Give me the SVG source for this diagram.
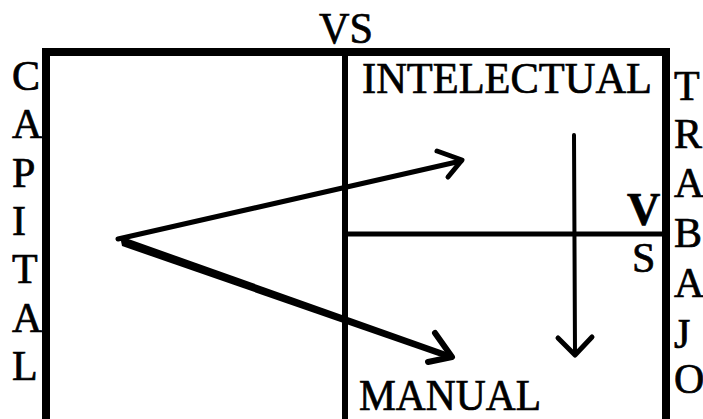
<svg xmlns="http://www.w3.org/2000/svg" width="703" height="419" viewBox="0 0 703 419">
<style>
.t{font-family:"Liberation Serif","Times New Roman",serif;fill:#000;stroke:#000;stroke-width:0.7;}
.box{fill:none;stroke:#000;}
.ln{fill:none;stroke:#000;stroke-linecap:round;stroke-linejoin:round;}
</style>
<rect width="703" height="419" fill="#fff"/>
<g id="frame">
  <path class="box" d="M46,419 V52 H666 V419" stroke-width="8" stroke-linejoin="miter"/>
  <line class="box" x1="345" y1="52" x2="345" y2="419" stroke-width="6"/>
  <line class="box" x1="345" y1="234" x2="662" y2="234" stroke-width="5"/>
</g>
<g id="vs-top"><text class="t" x="319" y="43" font-size="44" textLength="54" lengthAdjust="spacingAndGlyphs">VS</text></g>
<g id="intelectual"><text class="t" x="362" y="93" font-size="44" textLength="290" lengthAdjust="spacingAndGlyphs">INTELECTUAL</text></g>
<g id="manual"><text class="t" x="359" y="410" font-size="44" textLength="182" lengthAdjust="spacingAndGlyphs">MANUAL</text></g>
<g id="vs-right">
  <text class="t" x="627" y="225" font-size="46" font-weight="bold">V</text>
  <text class="t" x="632" y="272" font-size="42">S</text>
</g>
<g id="capital" class="t" font-size="42">
  <text x="12" y="90">C</text>
  <text x="12" y="138">A</text>
  <text x="12" y="187">P</text>
  <text x="12" y="235">I</text>
  <text x="12" y="283">T</text>
  <text x="12" y="332">A</text>
  <text x="12" y="380">L</text>
</g>
<g id="trabajo" class="t" font-size="42">
  <text x="674" y="100">T</text>
  <text x="674" y="148">R</text>
  <text x="674" y="197">A</text>
  <text x="674" y="247">B</text>
  <text x="674" y="297">A</text>
  <text x="674" y="348">J</text>
  <text x="674" y="393">O</text>
</g>
<g id="connectors">
  <line class="ln" x1="118" y1="239" x2="461" y2="161" stroke-width="5"/>
  <polyline class="ln" points="437,151 462,160 448,177" stroke-width="5"/>
  <path d="M120,236 L452,354 L450,360 L122,246 Z" fill="#000"/>
  <polyline class="ln" points="435,333 452,357 428,362" stroke-width="6"/>
  <line class="ln" x1="574" y1="135" x2="575" y2="354" stroke-width="4"/>
  <polyline class="ln" points="558,338 575,355 592,337" stroke-width="5"/>
</g>
</svg>
